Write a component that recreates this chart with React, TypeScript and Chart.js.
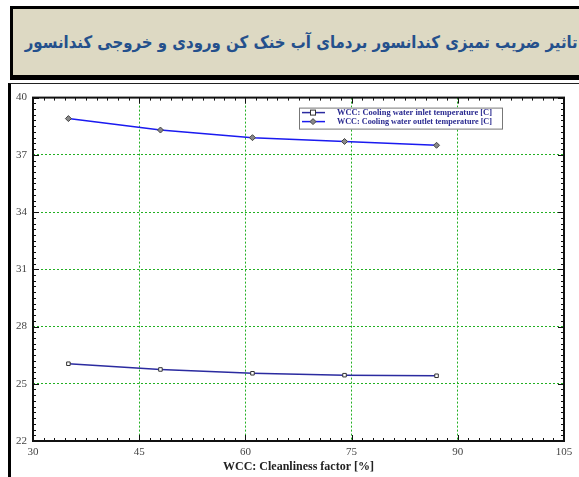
import React, { useEffect, useLayoutEffect, useRef } from 'react';
import { Chart, registerables } from 'chart.js';
Chart.register(...registerables);

const TITLE = 'تاثیر ضریب تمیزی کندانسور بردمای آب خنک کن ورودی و خروجی کندانسور';
const X_TITLE = 'WCC: Cleanliness factor [%]';
const SERIES_NAMES = [
  'WCC: Cooling water inlet temperature [C]',
  'WCC: Cooling water outlet temperature [C]',
];
const cleanliness = [35, 48, 61, 74, 87];
const inletTemp = [26.05, 25.75, 25.55, 25.45, 25.42];
const outletTemp = [38.9, 38.3, 37.9, 37.7, 37.5];
const X_MIN = 30;
const X_MAX = 105;
const X_STEP = 15;
const Y_MIN = 22;
const Y_MAX = 40;
const Y_STEP = 3;

const INLET_COLOR = '#2b2ba0';
const OUTLET_COLOR = '#1a1af0';
const GRID_GREEN = '#22b022';

function drawMarker(ctx: CanvasRenderingContext2D, style: string, x: number, y: number) {
  ctx.save();
  ctx.lineWidth = 1;
  if (style === 'rect') {
    ctx.fillStyle = '#ffffff';
    ctx.strokeStyle = '#333';
    ctx.fillRect(x - 2.5, y - 2.5, 5, 5);
    ctx.strokeRect(x - 2.5, y - 2.5, 5, 5);
  } else {
    ctx.fillStyle = '#888';
    ctx.strokeStyle = '#444';
    ctx.beginPath();
    ctx.moveTo(x, y - 3);
    ctx.lineTo(x + 3, y);
    ctx.lineTo(x, y + 3);
    ctx.lineTo(x - 3, y);
    ctx.closePath();
    ctx.fill();
    ctx.stroke();
  }
  ctx.restore();
}

const framePlugin = {
  id: 'framePlugin',
  afterDatasetsDraw(chart: any) {
    const { ctx, chartArea: a, scales } = chart;
    const xs = scales.x;
    const ys = scales.y;
    ctx.save();
    ctx.strokeStyle = '#111';
    ctx.lineWidth = 1;
    const seg = (x1: number, y1: number, x2: number, y2: number) => {
      ctx.beginPath();
      ctx.moveTo(x1, y1);
      ctx.lineTo(x2, y2);
      ctx.stroke();
    };
    const nx = Math.round((X_MAX - X_MIN) / (X_STEP / 10));
    for (let i = 0; i <= nx; i++) {
      const v = X_MIN + (i * X_STEP) / 10;
      const len = i % 10 === 0 ? 6 : 3;
      const px = Math.round(xs.getPixelForValue(v)) + 0.5;
      seg(px, a.bottom, px, a.bottom - len);
      seg(px, a.top, px, a.top + len);
    }
    const ny = Math.round((Y_MAX - Y_MIN) / (Y_STEP / 10));
    for (let i = 0; i <= ny; i++) {
      const v = Y_MIN + (i * Y_STEP) / 10;
      const len = i % 10 === 0 ? 6 : 3;
      const py = Math.round(ys.getPixelForValue(v)) + 0.5;
      seg(a.left, py, a.left + len, py);
      seg(a.right, py, a.right - len, py);
    }
    ctx.lineWidth = 2;
    ctx.strokeRect(a.left, a.top, a.right - a.left, a.bottom - a.top);

    // legend
    const bx = a.left + 266;
    const by = a.top + 10;
    const bw = 203;
    const bh = 21;
    ctx.fillStyle = '#ffffff';
    ctx.fillRect(bx, by, bw, bh);
    ctx.lineWidth = 1;
    ctx.strokeStyle = '#777';
    ctx.strokeRect(bx + 0.5, by + 0.5, bw, bh);
    chart.data.datasets.forEach((ds: any, i: number) => {
      const ry = by + 5 + i * 9;
      ctx.strokeStyle = ds.borderColor;
      ctx.lineWidth = 1.5;
      seg(bx + 3, ry, bx + 26, ry);
      drawMarker(ctx, ds.pointStyle, bx + 14, ry);
      ctx.save();
      ctx.font = 'bold 8px "Liberation Serif"';
      const w = ctx.measureText(ds.label).width;
      const target = 155;
      ctx.translate(bx + 38, ry);
      ctx.scale(target / w, 1);
      ctx.fillStyle = '#2a2a90';
      ctx.textBaseline = 'middle';
      ctx.textAlign = 'left';
      ctx.fillText(ds.label, 0, 0);
      ctx.restore();
    });
    ctx.restore();
  },
};

export default function App() {
  const ref = useRef<HTMLCanvasElement | null>(null);
  const titleRef = useRef<HTMLDivElement | null>(null);

  useLayoutEffect(() => {
    const el = titleRef.current;
    if (!el) return;
    el.style.transform = 'none';
    const w = el.getBoundingClientRect().width;
    if (w > 0) {
      const k = 553 / w;
      el.style.transformOrigin = 'right center';
      el.style.transform = `scaleX(${k})`;
    }
  }, []);

  useEffect(() => {
    if (!ref.current) return;
    const chart = new Chart(ref.current, {
      type: 'line',
      data: {
        datasets: [
          {
            label: SERIES_NAMES[0],
            data: cleanliness.map((x, i) => ({ x, y: inletTemp[i] })),
            borderColor: INLET_COLOR,
            borderWidth: 1.5,
            pointStyle: 'rect',
            pointRadius: 2.5,
            pointBackgroundColor: '#ffffff',
            pointBorderColor: '#333',
            pointBorderWidth: 1,
            tension: 0,
          },
          {
            label: SERIES_NAMES[1],
            data: cleanliness.map((x, i) => ({ x, y: outletTemp[i] })),
            borderColor: OUTLET_COLOR,
            borderWidth: 1.5,
            pointStyle: 'rectRot',
            pointRadius: 3,
            pointBackgroundColor: '#888',
            pointBorderColor: '#444',
            pointBorderWidth: 1,
            tension: 0,
          },
        ],
      },
      options: {
        animation: false,
        responsive: false,
        maintainAspectRatio: false,
        layout: { padding: { left: 0, top: 8, right: 15, bottom: 0 } },
        plugins: { legend: { display: false }, tooltip: { enabled: false } },
        scales: {
          x: {
            type: 'linear',
            min: X_MIN,
            max: X_MAX,
            ticks: {
              stepSize: X_STEP,
              color: '#444',
              font: { family: '"Liberation Serif"', size: 11 },
              padding: 5,
              maxRotation: 0,
              autoSkip: false,
            },
            grid: {
              color: (c: any) =>
                c.tick && (c.tick.value === X_MIN || c.tick.value === X_MAX) ? 'rgba(0,0,0,0)' : GRID_GREEN,
              lineWidth: 1,
              drawTicks: false,
            },
            border: { display: false, dash: [2, 2] },
            title: {
              display: true,
              text: X_TITLE,
              color: '#222',
              font: { family: '"Liberation Serif"', size: 12, weight: 'bold' },
              padding: { top: 0, bottom: 3 },
            },
            afterFit: (s: any) => {
              s.height = 36;
            },
          },
          y: {
            type: 'linear',
            min: Y_MIN,
            max: Y_MAX,
            ticks: {
              stepSize: Y_STEP,
              color: '#444',
              font: { family: '"Liberation Serif"', size: 11 },
              padding: 6,
            },
            grid: {
              color: (c: any) =>
                c.tick && (c.tick.value === Y_MIN || c.tick.value === Y_MAX) ? 'rgba(0,0,0,0)' : GRID_GREEN,
              lineWidth: 1,
              drawTicks: false,
            },
            border: { display: false, dash: [2, 2] },
            afterFit: (s: any) => {
              s.width = 23;
            },
          },
        },
      },
      plugins: [framePlugin],
    } as any);
    return () => chart.destroy();
  }, []);

  return (
    <div
      style={{
        position: 'fixed',
        left: 0,
        top: 0,
        width: 579,
        height: 477,
        background: '#ffffff',
        overflow: 'hidden',
      }}
    >
      <div
        style={{
          position: 'absolute',
          left: 10,
          top: 6,
          width: 600,
          height: 74,
          boxSizing: 'border-box',
          background: '#ddd9c3',
          borderTop: '3px solid #000',
          borderLeft: '3px solid #000',
          borderBottom: '5px solid #000',
        }}
      >
        <div
          ref={titleRef}
          dir="rtl"
          style={{
            position: 'absolute',
            right: 32,
            top: 0,
            height: 66,
            lineHeight: '66px',
            whiteSpace: 'nowrap',
            fontFamily: '"DejaVu Sans", sans-serif',
            fontWeight: 'bold',
            fontSize: 17,
            color: '#24508c',
          }}
        >
          {TITLE}
        </div>
      </div>
      <div
        style={{
          position: 'absolute',
          left: 8,
          top: 83,
          width: 600,
          height: 400,
          borderTop: '1px solid #222',
          borderLeft: '3px solid #000',
        }}
      />
      <canvas
        ref={ref}
        width={569}
        height={392}
        style={{ position: 'absolute', left: 10, top: 85, width: 569, height: 392 }}
      />
    </div>
  );
}
